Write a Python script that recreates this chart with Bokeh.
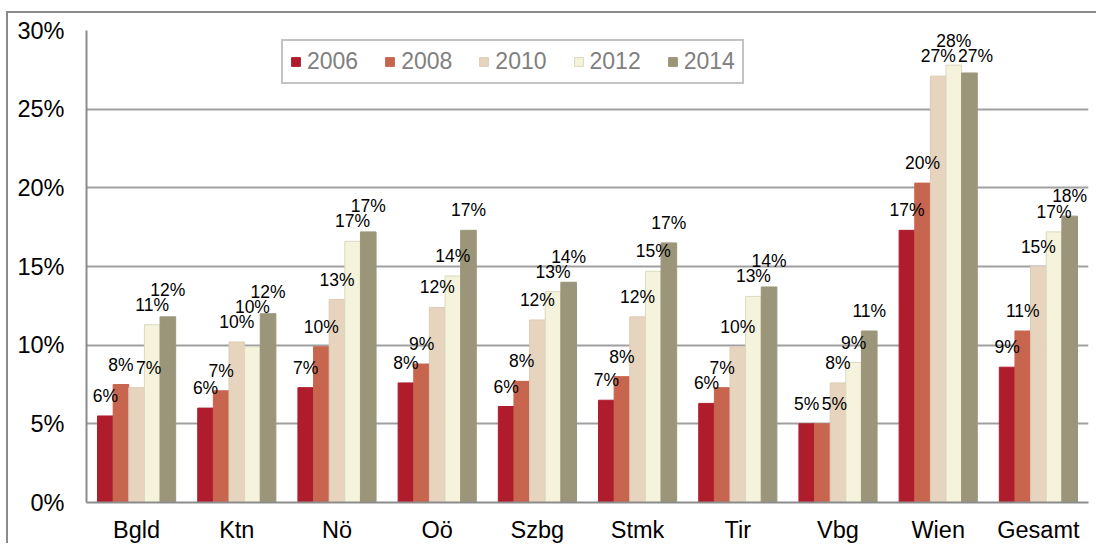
import math
from bokeh.plotting import figure
from bokeh.models import (ColumnDataSource, FactorRange, Range1d, FixedTicker,
                          PrintfTickFormatter, Legend, LegendItem, LabelSet)
from bokeh.core.properties import value
from bokeh.transform import dodge
from bokeh.embed import file_html
from bokeh.resources import INLINE

categories = ["Bgld", "Ktn", "Nö", "Oö", "Szbg", "Stmk", "Tir", "Vbg", "Wien", "Gesamt"]
years = ["2006", "2008", "2010", "2012", "2014"]
v2006 = [5.5, 6.0, 7.3, 7.6, 6.1, 6.5, 6.3, 5.0, 17.3, 8.6]
v2008 = [7.5, 7.1, 9.9, 8.8, 7.7, 8.0, 7.3, 5.0, 20.3, 10.9]
v2010 = [7.3, 10.2, 12.9, 12.4, 11.6, 11.8, 9.9, 7.6, 27.1, 15.0]
v2012 = [11.3, 9.9, 16.6, 14.4, 13.4, 14.7, 13.1, 8.9, 27.8, 17.2]
v2014 = [11.8, 12.0, 17.2, 17.3, 14.0, 16.5, 13.7, 10.9, 27.3, 18.2]
y_ticks = [0, 5, 10, 15, 20, 25, 30]

series = [v2006, v2008, v2010, v2012, v2014]
colors = ["#AF1D2D", "#C8654F", "#E7D4BE", "#F5F3DC", "#9B967A"]
edges = ["#AF1D2D", "#C8654F", "#DCCBB5", "#DAD8BE", "#9B967A"]

FONT = "Liberation Sans"
W, H = 1090, 532
MB_L, MB_R, MB_T, MB_B = 78, 10, 17, 42
frame_w = W - MB_L - MB_R
frame_h = H - MB_T - MB_B
y_max = y_ticks[-1]
ppu = frame_h / y_max            # pixels per percent
cat_px = frame_w / len(categories)
bar_w = 0.156
offsets = [(i - 2) * bar_w for i in range(5)]

p = figure(x_range=FactorRange(factors=categories, range_padding=0),
           y_range=Range1d(0, y_max),
           width=W, height=H, output_backend="svg", toolbar_location=None,
           min_border_left=MB_L, min_border_right=MB_R,
           min_border_top=MB_T, min_border_bottom=MB_B)
p.styles = {"border-left": "2px solid #8a8a8a", "border-top": "2px solid #8a8a8a",
            "margin-left": "6px", "margin-top": "11px"}
p.outline_line_color = None
p.background_fill_color = "white"
p.border_fill_color = "white"

# label placement with simple collision avoidance (computed from values)
font_px = 17.5
char_w = 0.556 * font_px
lab_h = 13
gap = 14
label_y = [[0.0] * len(categories) for _ in series]
label_dx = [[0.0] * len(categories) for _ in series]
label_txt = [[""] * len(categories) for _ in series]


def conflicts(cx, w, b, placed):
    for (cx2, w2, b2) in placed:
        if abs(cx - cx2) < (w + w2) / 2 + 1 and b < b2 + lab_h + 1 and b + lab_h + 1 > b2:
            return True
    return False


for ci in range(len(categories)):
    placed = []
    for si, vals in enumerate(series):
        v = vals[ci]
        txt = f"{int(math.floor(v + 0.5))}%"
        w = (len(txt) - 1) * char_w + 0.889 * font_px
        cx0 = offsets[si] * cat_px
        top = v * ppu
        b0 = top + gap
        bs = [b0]
        for (_, _, b2) in placed:
            bs += [b2 + lab_h + 2, b2 - lab_h - 2]
        best = None
        for dx in (0, -6, 6, -12, 12, -18, 18):
            for c in bs:
                if c < top + 1 or c + lab_h > frame_h - 1:
                    continue
                if conflicts(cx0 + dx, w, c, placed):
                    continue
                dv = c - b0
                cost = (dv if dv >= 0 else -2 * dv) + 1.2 * abs(dx)
                if best is None or cost < best[0]:
                    best = (cost, dx, c)
        if best is None:
            best = (0, 0, b0)
        _, dx, b = best
        placed.append((cx0 + dx, w, b))
        label_y[si][ci] = b / ppu
        label_dx[si][ci] = dx
        label_txt[si][ci] = txt

renderers = []
for si, (yr, vals) in enumerate(zip(years, series)):
    src = ColumnDataSource(dict(cat=categories, val=vals, ly=label_y[si],
                                dx=label_dx[si], txt=label_txt[si]))
    r = p.vbar(x=dodge("cat", offsets[si], range=p.x_range), top="val", width=bar_w,
               source=src, fill_color=colors[si], line_color=edges[si], line_width=1)
    renderers.append(r)
    lbl = LabelSet(x=dodge("cat", offsets[si], range=p.x_range), y="ly", text="txt",
                   x_offset="dx", source=src, text_align="center",
                   text_baseline="alphabetic",
                   text_font=value(FONT), text_font_size=value(f"{font_px}px"),
                   text_color="black")
    p.add_layout(lbl)

p.xgrid.grid_line_color = None
p.ygrid.grid_line_color = "#A0A0A0"
p.ygrid.grid_line_width = 2
p.yaxis.ticker = FixedTicker(ticks=y_ticks)
p.yaxis.formatter = PrintfTickFormatter(format="%d%%")
for ax in (p.xaxis, p.yaxis):
    ax.axis_line_color = "#8c8c8c"
    ax.axis_line_width = 2
    ax.major_tick_line_color = None
    ax.minor_tick_line_color = None
    ax.major_tick_out = 0
    ax.major_tick_in = 0
    ax.minor_tick_out = 0
    ax.major_label_text_font = FONT
    ax.major_label_text_font_size = "23.5px"
    ax.major_label_text_color = "black"
p.xaxis.major_label_standoff = 14
p.yaxis.major_label_standoff = 22

legend = Legend(items=[LegendItem(label=yr, renderers=[r]) for yr, r in zip(years, renderers)],
                orientation="horizontal", location=(195, 418))
legend.label_text_font = FONT
legend.label_text_font_size = "23px"
legend.label_text_color = "#808080"
legend.glyph_width = 11
legend.glyph_height = 11
legend.label_standoff = 6
legend.spacing = 26
legend.padding = 7
legend.margin = 0
legend.border_line_color = "#888888"
legend.border_line_width = 2
legend.background_fill_color = "white"
legend.background_fill_alpha = 1
p.add_layout(legend, "center")

open("out.html", "w").write(file_html(p, INLINE))
